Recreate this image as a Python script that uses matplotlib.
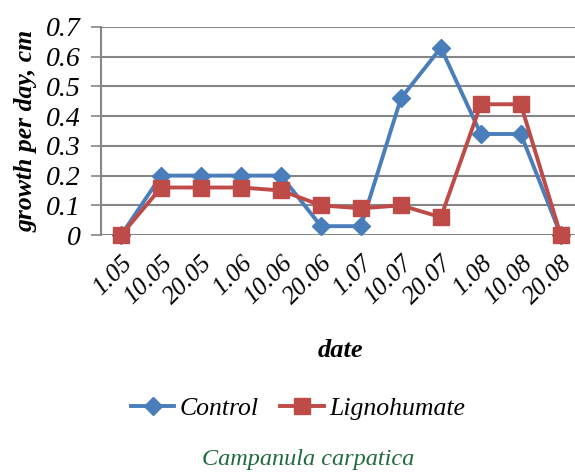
import matplotlib
matplotlib.use("Agg")
import matplotlib.pyplot as plt

dates = ["1.05", "10.05", "20.05", "1.06", "10.06", "20.06", "1.07", "10.07", "20.07", "1.08", "10.08", "20.08"]
control = [0, 0.2, 0.2, 0.2, 0.2, 0.03, 0.03, 0.46, 0.63, 0.34, 0.34, 0]
lignohumate = [0, 0.16, 0.16, 0.16, 0.15, 0.10, 0.09, 0.10, 0.06, 0.44, 0.44, 0]
yticks = [0, 0.1, 0.2, 0.3, 0.4, 0.5, 0.6, 0.7]
ytick_labels = ["0", "0.1", "0.2", "0.3", "0.4", "0.5", "0.6", "0.7"]

plt.rcParams['font.family'] = ['Liberation Serif', 'DejaVu Serif']

fig = plt.figure(figsize=(5.75, 4.73), dpi=100)
ax = fig.add_axes([0.176, 0.503, 0.834, 0.440])

x = list(range(len(dates)))
ax.plot(x, control, color='#4a7ebb', lw=2.8, marker='D', ms=9, label='Control', zorder=3, clip_on=False)
ax.plot(x, lignohumate, color='#be4b48', lw=2.8, marker='s', ms=11.5, label='Lignohumate', zorder=4, clip_on=False)

ax.set_xlim(-0.5, 11.5)
ax.set_ylim(0, 0.7)
ax.set_yticks(yticks)
ax.set_yticklabels(ytick_labels, fontsize=20, style='italic')
ax.set_xticks(x)
ax.set_xticklabels(dates, fontsize=18.5, style='italic', rotation=45, ha='right', rotation_mode='anchor')
ax.tick_params(axis='x', length=0, pad=12)
ax.tick_params(axis='y', length=7, color='#868686', width=1.2, pad=8)

ax.yaxis.grid(True, color='#868686', lw=1.5)
ax.set_axisbelow(True)
for s in ['top', 'right', 'bottom']:
    ax.spines[s].set_visible(False)
ax.spines['left'].set_color('#868686')
ax.spines['left'].set_linewidth(1.5)

ax.set_ylabel('growth per day, cm', fontsize=18.5, style='italic', weight='bold', labelpad=6)
ax.set_xlabel('date', fontsize=19, style='italic', weight='bold', labelpad=22)

leg = fig.legend(loc='center', bbox_to_anchor=(0.518, 0.137), ncol=2, frameon=False,
                 prop={'family': 'Liberation Serif', 'style': 'italic', 'size': 18.5},
                 handlelength=1.7, handletextpad=0.2, columnspacing=0.85)

fig.text(0.535, 0.028, 'Campanula carpatica', color='#1f6b3a', fontsize=17.5, style='italic',
         ha='center', va='center')

fig.savefig('out.png', dpi=100)
